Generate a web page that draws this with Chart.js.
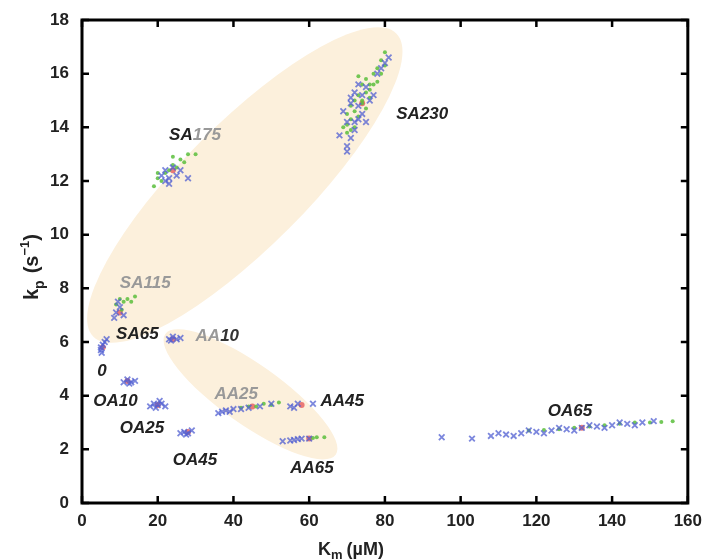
<!DOCTYPE html>
<html><head><meta charset="utf-8">
<script src="https://cdn.jsdelivr.net/npm/chart.js@4"></script>
<style>html,body{margin:0;padding:0;background:#fff}#c{width:702px;height:560px}</style>
</head><body><div id="c"><canvas id="cv" width="702" height="560"></canvas></div>
<script>
const xTicks=[0,20,40,60,80,100,120,140,160];
const yTicks=[0,2,4,6,8,10,12,14,16,18];
const blueX=[[70,13.3],[71,13.6],[72,14.2],[73,14.8],[74,15.2],[75,15.5],[76,15.0],[72,15.3],[78,16.0],[80,16.4],[81,16.6],[68,13.7],[74,14.5],[70,14.2],[73,15.6],[71,14.9],[69,14.6],[70,13.1],[72,13.9],[75,14.2],[77,15.2],[79,16.2],[71,15.1],[73,14.3],
[22,12.0],[23,12.1],[25,12.2],[28,12.1],[24,12.5],[21,12.2],[23,11.9],[26,12.4],[22,12.4],
[9,7.1],[10,7.3],[11,7.0],[9.5,7.5],[8.5,6.9],
[5,5.7],[5.5,5.9],[6,6.0],[5,5.8],[5.2,5.6],[6.5,6.1],
[23,6.1],[24,6.2],[25,6.1],[26,6.15],[23.5,6.05],
[11,4.5],[12,4.6],[13,4.5],[14,4.55],[12.5,4.45],
[18,3.6],[19,3.7],[20,3.65],[21,3.7],[22,3.6],[19.5,3.55],[20.5,3.8],
[26,2.6],[27,2.65],[28,2.6],[29,2.7],[27.5,2.55],
[37,3.4],[38,3.45],[40,3.5],[44,3.55],[50,3.7],[55,3.6],[57,3.7],[61,3.7],[36,3.35],[39,3.4],[42,3.5],[47,3.6],[56,3.55],
[53,2.3],[56,2.35],[58,2.4],[60,2.4],[55,2.33],[57,2.38],
[95,2.45],[103,2.4],[108,2.5],[112,2.55],[116,2.6],[120,2.65],[124,2.7],[128,2.75],[132,2.8],[136,2.85],[140,2.9],[144,2.95],[148,3.0],[151,3.05],[110,2.6],[114,2.5],[118,2.7],[122,2.6],[126,2.8],[130,2.7],[134,2.9],[138,2.8],[142,3.0],[146,2.9]];
const greenDots=[[69,14.0],[70,14.5],[71,14.8],[72,14.0],[73,15.2],[74,15.6],[75,15.8],[76,15.4],[77,16.0],[78,16.2],[79,16.5],[80,16.3],[72,14.6],[74,14.9],[76,15.6],[70,13.8],[75,14.7],[71,14.3],[73,14.4],[74,15.0],[76,15.1],[77,15.6],[78,15.7],[72,15.0],[73,15.9],[75,15.3],[70,14.1],[71,13.9],[79,16.0],[80,16.8],
[19,11.8],[20,12.1],[22,12.3],[24,12.6],[26,12.8],[28,13.0],[30,13.0],[23,12.4],[21,12.0],[25,12.5],[27,12.7],[20,12.3],[24,12.9],
[9,7.4],[10,7.6],[12,7.6],[14,7.7],[11,7.5],[10.5,7.2],[13,7.5],
[42,3.55],[46,3.6],[48,3.7],[52,3.75],[44,3.6],[50,3.65],
[62,2.45],[64,2.45],[61,2.42],
[118,2.7],[126,2.75],[134,2.85],[142,2.95],[150,3.0],[156,3.05],[122,2.72],[130,2.8],[138,2.9],[146,3.0],[153,3.02]];
const redPts=[[74,14.9],[24,12.4],[10,7.1],[5.5,5.8],[24,6.1],[12,4.55],[20,3.65],[28,2.65],[45,3.6],[58,3.65],[60,2.4],[132,2.8]];
const labels=[
 [[["SA230","#222"]],83,14.5],
 [[["SA","#222"],["175","#999"]],23,13.7],
 [[["SA115","#999"]],10,8.2],
 [[["SA65","#222"]],9,6.3],
 [[["0","#222"]],4,4.9],
 [[["AA","#999"],["10","#333"]],30,6.2],
 [[["OA10","#222"]],3,3.8],
 [[["AA25","#999"]],35,4.05],
 [[["AA45","#222"]],63,3.8],
 [[["OA25","#222"]],10,2.8],
 [[["OA65","#222"]],123,3.4],
 [[["OA45","#222"]],24,1.6],
 [[["AA65","#222"]],55,1.3]];
const ellipses=[[[3,6.2],[83,17.5],62],[[22,6.3],[67,1.8],30]];
const fnt='"Liberation Sans", Arial, sans-serif';
const bg={id:'bg',beforeDatasetsDraw(ch){const c=ch.ctx,xs=ch.scales.x,ys=ch.scales.y;c.save();c.fillStyle='#fcf0dc';
 ellipses.forEach(e=>{const x1=xs.getPixelForValue(e[0][0]),y1=ys.getPixelForValue(e[0][1]),x2=xs.getPixelForValue(e[1][0]),y2=ys.getPixelForValue(e[1][1]);
 const cx=(x1+x2)/2,cy=(y1+y2)/2,a=Math.hypot(x2-x1,y2-y1)/2,r=Math.atan2(y2-y1,x2-x1);c.beginPath();c.ellipse(cx,cy,a,e[2],r,0,2*Math.PI);c.fill();});c.restore();},
 afterDraw(ch){const c=ch.ctx,xs=ch.scales.x,ys=ch.scales.y,a=ch.chartArea;c.save();c.strokeStyle='#000';c.lineWidth=3;c.strokeRect(a.left,a.top,a.right-a.left,a.bottom-a.top);
 c.lineWidth=2.5;xTicks.forEach(v=>{const p=xs.getPixelForValue(v);c.beginPath();c.moveTo(p,a.bottom);c.lineTo(p,a.bottom-7);c.moveTo(p,a.top);c.lineTo(p,a.top+7);c.stroke();});
 yTicks.forEach(v=>{const p=ys.getPixelForValue(v);c.beginPath();c.moveTo(a.left,p);c.lineTo(a.left+7,p);c.moveTo(a.right,p);c.lineTo(a.right-7,p);c.stroke();});
 c.font='italic bold 17px '+fnt;c.textBaseline='middle';
 labels.forEach(l=>{let x=xs.getPixelForValue(l[1]);const y=ys.getPixelForValue(l[2]);l[0].forEach(p=>{c.fillStyle=p[1];c.fillText(p[0],x,y);x+=c.measureText(p[0]).width;});});
 c.fillStyle='#222';c.font='bold 18px '+fnt;c.textBaseline='alphabetic';let tx=318,ty=555;c.fillText('K',tx,ty);tx+=c.measureText('K').width;c.font='bold 13px '+fnt;c.fillText('m',tx,ty+4);tx+=c.measureText('m').width+4;c.font='bold 18px '+fnt;c.fillText('(µM)',tx,ty);
 c.translate(38,300);c.rotate(-Math.PI/2);c.font='bold 20px '+fnt;tx=0;c.fillText('k',tx,0);tx+=c.measureText('k').width;c.font='bold 14px '+fnt;c.fillText('p',tx,6);tx+=c.measureText('p').width+7;c.font='bold 20px '+fnt;c.fillText('(s',tx,0);tx+=c.measureText('(s').width;c.font='bold 13px '+fnt;c.fillText('−1',tx,-9);tx+=c.measureText('−1').width;c.font='bold 20px '+fnt;c.fillText(')',tx,0);
 c.restore();}};
const toP=a=>a.map(p=>({x:p[0],y:p[1]}));
new Chart(document.getElementById('cv'),{type:'scatter',plugins:[bg],
 data:{datasets:[
  {data:toP(blueX),pointStyle:'cross',rotation:45,radius:4,borderColor:'rgba(80,95,210,0.75)',borderWidth:1.8},
  {data:toP(greenDots),pointStyle:'circle',radius:2,backgroundColor:'rgba(90,190,60,0.85)',borderWidth:0},
  {data:toP(redPts),pointStyle:'circle',radius:3,backgroundColor:'rgba(230,100,100,0.85)',borderWidth:0}]},
 options:{responsive:false,animation:false,layout:{padding:{top:20,right:14}},
  plugins:{legend:{display:false},tooltip:{enabled:false}},
  scales:{x:{type:'linear',min:0,max:160,afterBuildTicks(s){s.ticks=xTicks.map(v=>({value:v}));},afterFit(s){s.height=57;},
     grid:{display:false},border:{display:false},ticks:{color:'#222',font:{family:fnt,size:17,weight:'bold'},padding:0}},
   y:{min:0,max:18,afterBuildTicks(s){s.ticks=yTicks.map(v=>({value:v}));},afterFit(s){s.width=82;},
     grid:{display:false},border:{display:false},ticks:{color:'#222',font:{family:fnt,size:17,weight:'bold'},padding:5}}}}});
</script></body></html>
